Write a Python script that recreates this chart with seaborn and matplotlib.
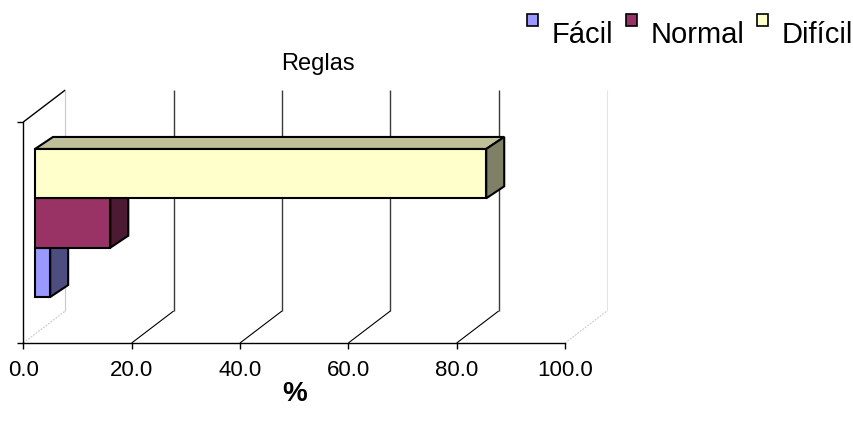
import matplotlib
matplotlib.use("Agg")
import numpy as np
import pandas as pd
import matplotlib.pyplot as plt
import seaborn as sns
from matplotlib.patches import Polygon, Rectangle, Patch
from matplotlib.legend_handler import HandlerPatch
from matplotlib.colors import to_rgb

# Data
grupo = ["Reglas", "Reglas", "Reglas"]
niveles = ["Fácil", "Normal", "Difícil"]
porcentajes = [2.8, 13.9, 83.3]
colores = ["#9999FF", "#993366", "#FFFFCC"]
ticks_x = [0, 20, 40, 60, 80, 100]
etiquetas_x = ["0.0", "20.0", "40.0", "60.0", "80.0", "100.0"]
titulo = "Reglas"
etiqueta_eje = "%"

W, H = 854, 430
sns.set_theme(style="white")
plt.rcParams["font.family"] = ["Liberation Sans", "DejaVu Sans"]
plt.rcParams["text.color"] = "black"

fig = plt.figure(figsize=(W / 100, H / 100), dpi=100)
fig.patch.set_facecolor("white")

# Front plane of the 3D box, in pixels
x0px, x1px, ytop, ybot = 23.3, 565.0, 122.0, 343.0
ax = fig.add_axes([x0px / W, 1 - ybot / H, (x1px - x0px) / W, (ybot - ytop) / H])
ax.patch.set_alpha(0)

df = pd.DataFrame({"grupo": grupo, "nivel": niveles, "valor": porcentajes})
sns.barplot(data=df, x="valor", y="grupo", hue="nivel",
            hue_order=niveles[::-1], palette=dict(zip(niveles, colores)),
            orient="h", width=0.67, dodge=True, gap=0, errorbar=None,
            saturation=1, edgecolor="black", linewidth=1.5, legend=False, ax=ax)
ax.set_xlim(0, 100)
ax.set_ylim(0.5, -0.5)

sx = (x1px - x0px) / 100.0
sy = (ybot - ytop) / 1.0


def off(dx_px, dy_px):
    """pixel offset (right, up) -> data offset"""
    return dx_px / sx, -dy_px / sy


Fx, Fy = off(11.7, 9.5)    # bars sit a bit into the depth
Bx, By = off(18.0, 12.0)   # bar thickness in depth
Dx, Dy = off(42.0, 32.0)   # full depth of the box

# Walls and floor
lk = dict(clip_on=False, zorder=1, solid_capstyle="butt")
ax.plot([0, Dx], [-0.5, -0.5 + Dy], color="black", lw=1.0, **lk)
ax.plot([Dx, Dx], [0.5 + Dy, -0.5 + Dy], color="#C8C8C8", lw=0.8, **lk)
ax.plot([100 + Dx, 100 + Dx], [0.5 + Dy, -0.5 + Dy], color="#E4E4E4", lw=0.8, **lk)
for v in ticks_x:
    if 0 < v < 100:
        ax.plot([v + Dx, v + Dx], [0.5 + Dy, -0.5 + Dy], color="#3A3A3A", lw=1.0, **lk)
        ax.plot([v, v + Dx], [0.5, 0.5 + Dy], color="black", lw=0.8, **lk)
    else:
        ax.plot([v, v + Dx], [0.5, 0.5 + Dy], color="#CFCFCF", lw=0.9, ls=(0, (1.5, 1)), **lk)

# Extrude the bars: top and side faces, drawn bottom bar first
barras = sorted(ax.patches, key=lambda p: -(p.get_y() + p.get_height() / 2))
for i, p in enumerate(barras):
    base = 3 + i
    p.set_x(p.get_x() + Fx)
    p.set_y(p.get_y() + Fy)
    p.set_zorder(base + 0.2)
    p.set_clip_on(False)
    rgb = np.array(to_rgb(p.get_facecolor()))
    xl, xr = p.get_x(), p.get_x() + p.get_width()
    ya, yb = p.get_y(), p.get_y() + p.get_height()
    yt, ybt = min(ya, yb), max(ya, yb)
    top = Polygon([(xl, yt), (xr, yt), (xr + Bx, yt + By), (xl + Bx, yt + By)],
                  closed=True, facecolor=rgb * 0.75, edgecolor="black", lw=1.5,
                  zorder=base + 0.1, clip_on=False, joinstyle="miter")
    side = Polygon([(xr, yt), (xr, ybt), (xr + Bx, ybt + By), (xr + Bx, yt + By)],
                   closed=True, facecolor=rgb * 0.5, edgecolor="black", lw=1.5,
                   zorder=base + 0.1, clip_on=False, joinstyle="miter")
    ax.add_patch(top)
    ax.add_patch(side)

# Axes styling
sns.despine(ax=ax, top=True, right=True)
for s in ("left", "bottom"):
    ax.spines[s].set_color("black")
    ax.spines[s].set_linewidth(1.0)
    ax.spines[s].set_zorder(2)
ax.set_xticks(ticks_x)
ax.set_xticklabels(etiquetas_x)
ax.set_yticks([-0.5, 0.5])
ax.set_yticklabels([])
ax.tick_params(axis="both", direction="out", length=4.5, width=1.0, color="black",
               labelsize=16, labelcolor="black", bottom=True, left=True)
ax.tick_params(axis="x", pad=8)
ax.set_xlabel("")
ax.set_ylabel("")
ax.grid(False)

fig.text(318 / W, 1 - 64 / H, titulo, ha="center", va="center", fontsize=17, color="black")
fig.text(295 / W, 1 - 394 / H, etiqueta_eje, ha="center", va="center", fontsize=20,
         fontweight="bold", color="black")


def cuadro(legend, orig_handle, xdescent, ydescent, width, height, fontsize):
    return Rectangle((-xdescent, -ydescent + 0.6 * fontsize), width, width)


handles = [Patch(facecolor=c, edgecolor="black", lw=1.2) for c in colores]
fig.legend(handles, niveles, loc="upper right", bbox_to_anchor=(853 / W, 1 - 21 / H),
           ncol=3, frameon=False, fontsize=21, handlelength=0.38, handleheight=0.7,
           handletextpad=0.45, columnspacing=0.45, borderaxespad=0, borderpad=0,
           labelcolor="black",
           handler_map={Patch: HandlerPatch(patch_func=cuadro)})

fig.savefig("out.png", dpi=100, facecolor="white")
